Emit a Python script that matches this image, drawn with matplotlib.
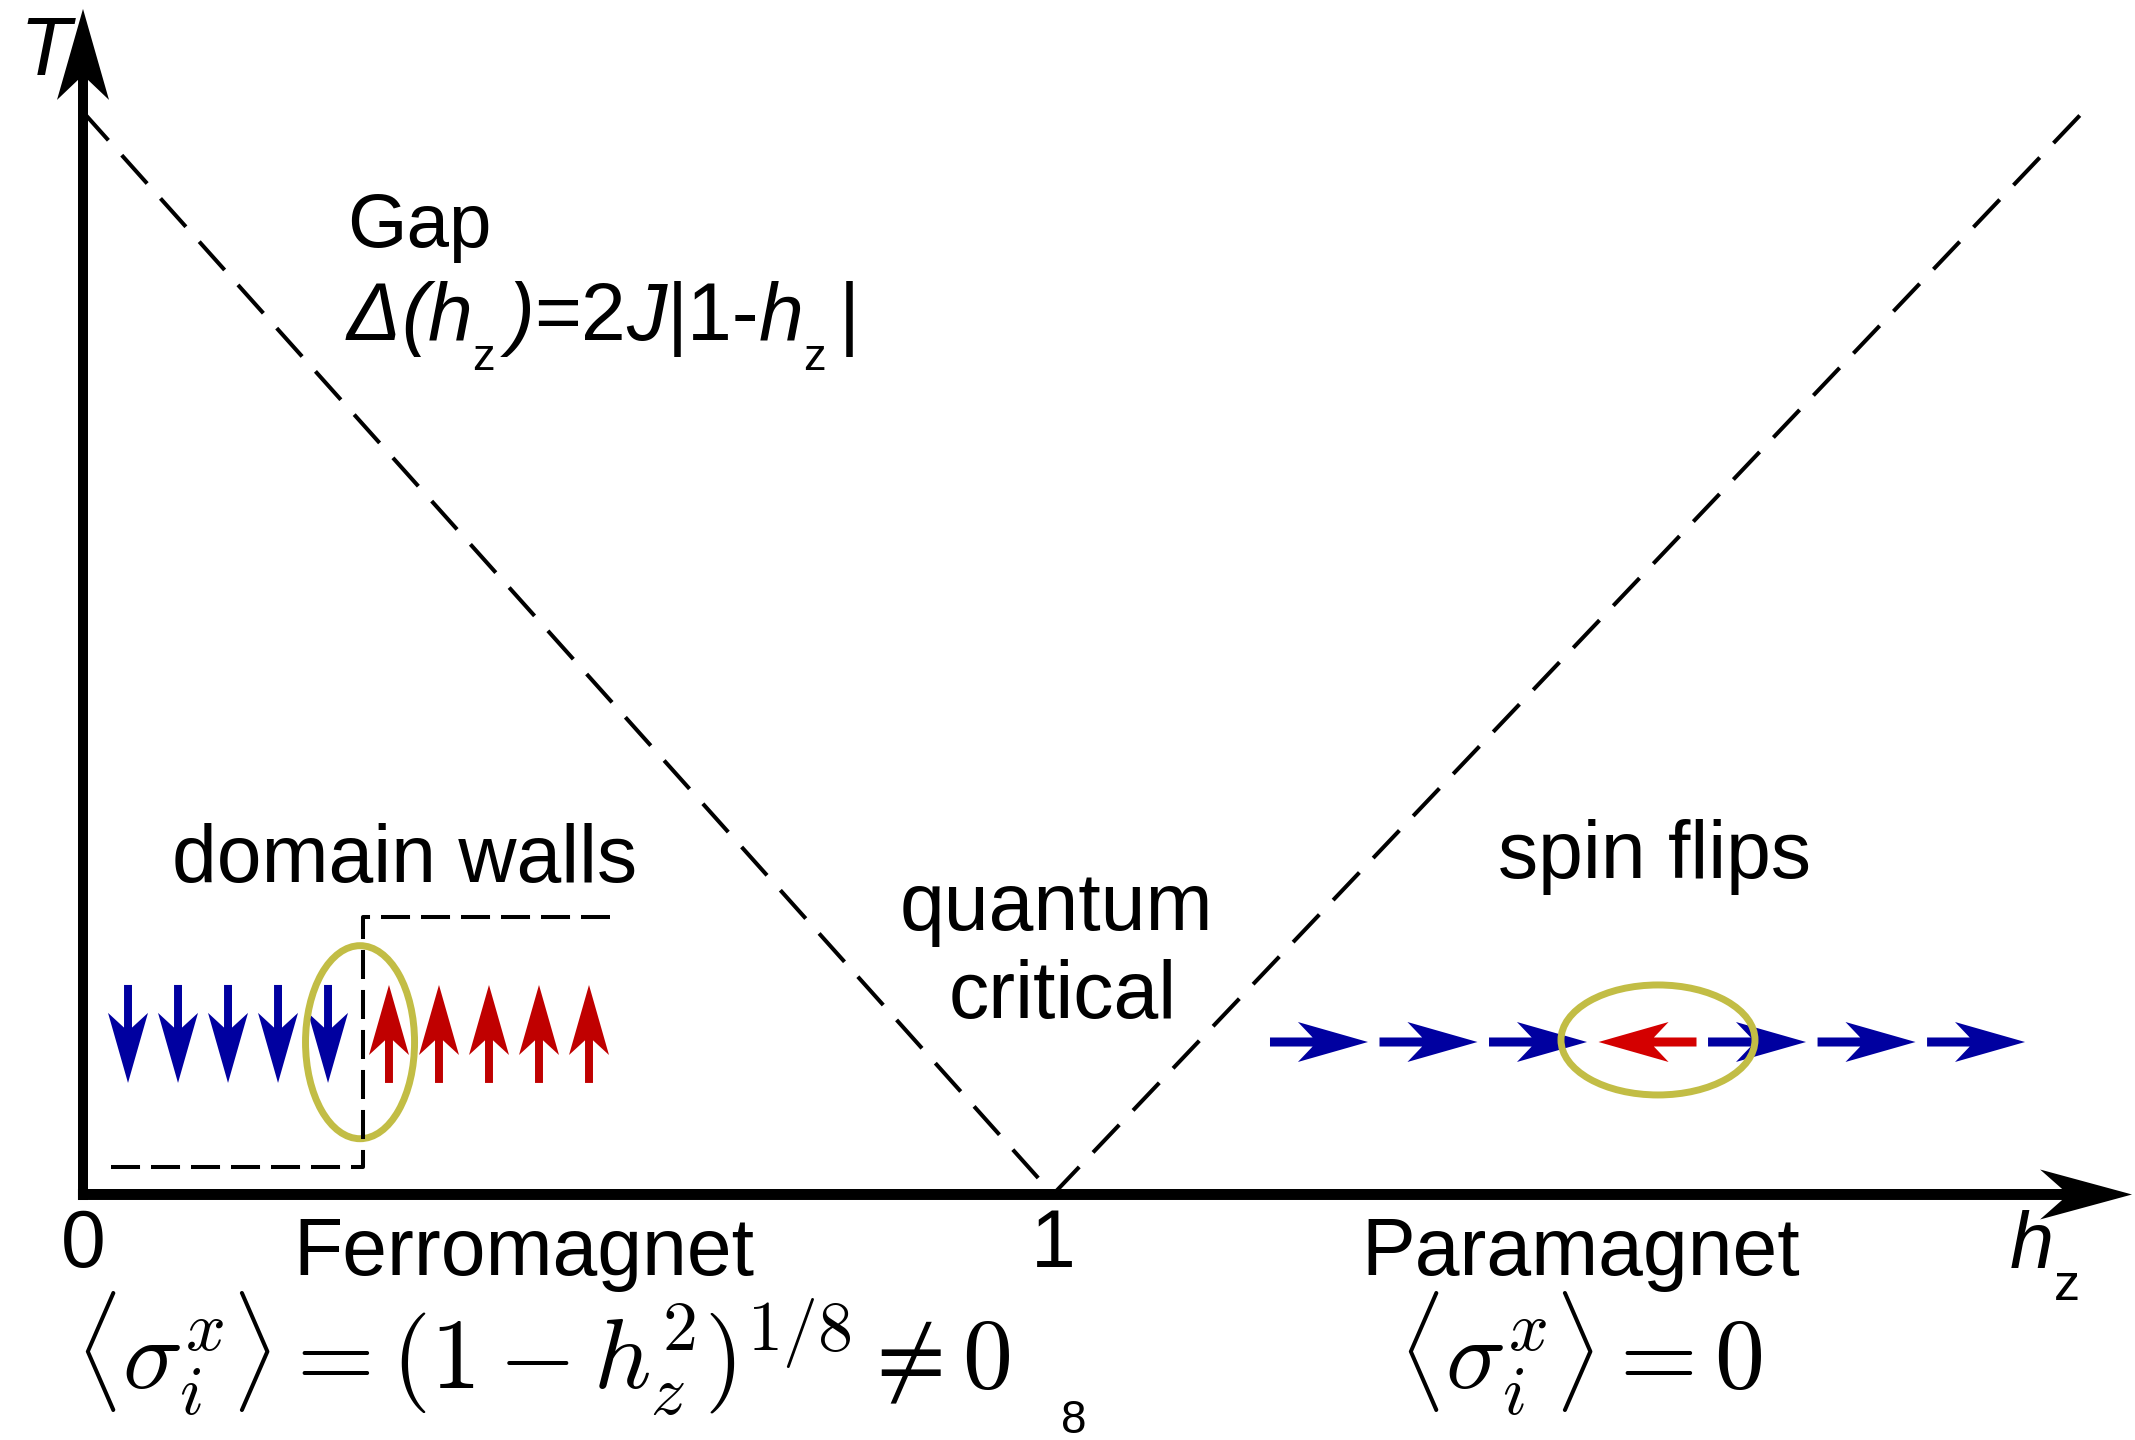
import matplotlib
matplotlib.use("Agg")
import matplotlib.pyplot as plt
from matplotlib.patches import FancyArrow, Ellipse

plt.rcParams["font.family"] = ["Liberation Sans", "DejaVu Sans"]
plt.rcParams["mathtext.fontset"] = "cm"
plt.rcParams["lines.scale_dashes"] = False

# ---- data -------------------------------------------------------------
# crossover lines T ~ gap(h_z) meeting at the quantum critical point
gap_hz = [0.0, 1.0, 2.062]
gap_T = [1.116, 0.0, 1.116]

# tick marks on the field axis
tick_pos = [0.0, 1.0]
tick_labels = ["0", "1"]

# spin chains: +1 = up / right, -1 = down / left
domain_spins = [-1, -1, -1, -1, -1, 1, 1, 1, 1, 1]
flip_spins = [1, 1, 1, -1, 1, 1, 1]

# phases and their order parameter
phase_names = ["Ferromagnet", "Paramagnet"]
phase_centers = [0.455, 1.544]
order_params = [r"$\langle\sigma_i^x\rangle = (1-h_z^2)^{1/8} \neq 0$",
                r"$\langle\sigma_i^x\rangle = 0$"]

# ---- style ------------------------------------------------------------
BLUE = "#0000a0"
RED_DW = "#c00000"
RED_FLIP = "#d40000"
RING = "#c2bd45"
TXT = 58

fig = plt.figure(figsize=(21.35, 14.4), dpi=100)
ax = fig.add_axes([0, 0, 1, 1])
ax.set_xlim(-0.08557, 2.11546)
ax.set_ylim(-0.2531, 1.2314)
ax.axis("off")


def text_runs(x, y, runs, size):
    """Write consecutive pieces of text on one baseline (for sub/italic mix)."""
    prev = None
    for s, style, scale, dy in runs:
        kw = dict(fontsize=size * scale, fontstyle=style, ha="left",
                  va="baseline", color="black")
        if prev is None:
            t = ax.text(x, y, s, **kw)
        else:
            t = ax.annotate(s, xy=(1, y), xycoords=(prev, "data"),
                            xytext=(0, dy), textcoords="offset points", **kw)
        prev = t


# ---- axes arrows ----------------------------------------------------
ax.add_patch(FancyArrow(0, -0.0057, 0, 1.2279, width=0.0103,
                        head_width=0.0536, head_length=0.0938, overhang=0.22,
                        length_includes_head=True, color="black", lw=0,
                        zorder=5))
ax.add_patch(FancyArrow(-0.0052, 0, 2.1176, 0, width=0.0113,
                        head_width=0.0515, head_length=0.0948, overhang=0.24,
                        length_includes_head=True, color="black", lw=0,
                        zorder=5))

for p, lab in zip(tick_pos, tick_labels):
    ax.text(p, -0.0747, lab, fontsize=TXT, ha="center", va="baseline")

text_runs(-0.065, 1.1541, [("T", "italic", 1.0, 0)], 60)
text_runs(1.9866, -0.0758, [("h", "italic", 1.0, 0),
                            ("z", "normal", 0.66, -23)], 57)

# ---- gap lines --------------------------------------------------------
dash_v = (0, (27.4, 14.4))
ax.plot(gap_hz[:2], gap_T[:2], color="black", lw=2.9, linestyle=dash_v,
        dash_capstyle="butt")
ax.plot(gap_hz[1:], gap_T[1:], color="black", lw=2.9, linestyle=dash_v,
        dash_capstyle="butt")

ax.text(0.2722, 0.9768, "Gap", fontsize=55, ha="left", va="baseline")
text_runs(0.2722, 0.8809, [
    ("\u0394", "italic", 1.0, 0),
    ("(", "italic", 1.0, 0),
    ("h", "italic", 1.0, 0),
    ("z ", "normal", 0.56, -21.6),
    (")", "italic", 1.0, 0),
    ("=2", "normal", 1.0, 0),
    ("J", "italic", 1.0, 0),
    ("|1-", "normal", 1.0, 0),
    ("h", "italic", 1.0, 0),
    ("z ", "normal", 0.56, -21.6),
    ("|", "normal", 1.0, 0),
], 58)

# ---- region labels ------------------------------------------------------
ax.text(0.3314, 0.3222, "domain walls", fontsize=TXT, ha="center", va="baseline")
ax.text(1.0031, 0.2727, "quantum", fontsize=TXT, ha="center", va="baseline")
ax.text(1.0103, 0.1820, "critical", fontsize=TXT, ha="center", va="baseline")
ax.text(1.6206, 0.3263, "spin flips", fontsize=TXT, ha="center", va="baseline")

for name, c in zip(phase_names, phase_centers):
    ax.text(c, -0.083, name, fontsize=TXT, ha="center", va="baseline")
ax.text(0.474, -0.2015, order_params[0], fontsize=72, ha="center", va="baseline")
ax.text(phase_centers[1], -0.2015, order_params[1], fontsize=72, ha="center",
        va="baseline")
ax.text(1.0216, -0.2455, "8", fontsize=33, ha="center", va="baseline")

# ---- domain-wall chain (ferromagnet) ---------------------------------
arrow_len = 0.101
head = dict(head_width=0.0412, head_length=0.0722, overhang=0.21,
            length_includes_head=True, lw=0)
dw_x0, dw_step, dw_wall = 0.0464, 0.05155, 0.0113
dw_top, dw_bottom = 0.216, 0.115
n_down = sum(1 for s in domain_spins if s < 0)
for k, s in enumerate(domain_spins):
    x = dw_x0 + k * dw_step + (dw_wall if k >= n_down else 0.0)
    if s < 0:
        ax.add_patch(FancyArrow(x, dw_top, 0, -arrow_len, width=0.0082,
                                color=BLUE, **head))
    else:
        ax.add_patch(FancyArrow(x, dw_bottom, 0, arrow_len, width=0.0082,
                                color=RED_DW, **head))

ax.add_patch(Ellipse((0.2856, 0.157), 0.1124, 0.199, fill=False,
                     edgecolor=RING, lw=5, zorder=3))
ax.plot([0.0289, 0.2887, 0.2887, 0.5433], [0.0284, 0.0284, 0.2861, 0.2861],
        color="black", lw=2.9, linestyle=(0, (20.9, 7.9)),
        dash_capstyle="butt", zorder=4)

# ---- spin-flip chain (paramagnet) ---------------------------------------
sf_x0, sf_step, sf_y = 1.2237, 0.1129, 0.1572
for k, s in enumerate(flip_spins):
    x = sf_x0 + k * sf_step
    if s > 0:
        ax.add_patch(FancyArrow(x, sf_y, arrow_len, 0, width=0.0093,
                                color=BLUE, **head))
    else:
        ax.add_patch(FancyArrow(x + arrow_len, sf_y, -arrow_len, 0,
                                width=0.0093, color=RED_FLIP, **head))

ax.add_patch(Ellipse((1.6237, 0.1593), 0.200, 0.1134, fill=False,
                     edgecolor=RING, lw=5, zorder=3))

fig.savefig("out.png", dpi=100, facecolor="white")
